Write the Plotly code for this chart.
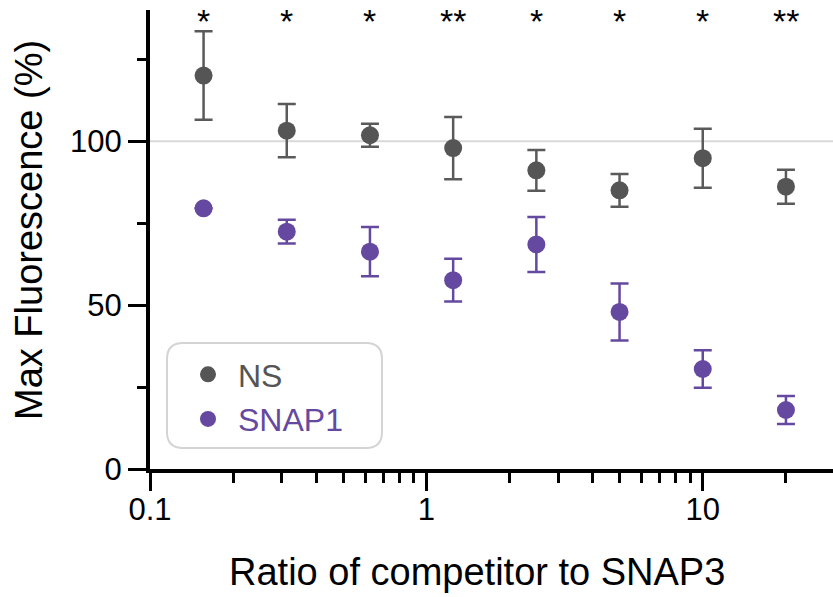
import plotly.graph_objects as go
import math

# ---- data ----
ratios = [0.15625, 0.3125, 0.625, 1.25, 2.5, 5, 10, 20]
ns_mean = [120.0, 103.2, 101.8, 97.9, 91.1, 85.0, 94.8, 86.1]
ns_err = [13.5, 8.1, 3.5, 9.5, 6.2, 5.0, 9.0, 5.2]
snap1_mean = [79.5, 72.4, 66.3, 57.6, 68.5, 47.9, 30.5, 18.0]
snap1_err = [0, 3.6, 7.5, 6.5, 8.4, 8.7, 5.7, 4.3]
signif = ["*", "*", "*", "**", "*", "*", "*", "**"]

x_tick_vals = [0.1, 1, 10]
x_tick_text = ["0.1", "1", "10"]
x_minor_vals = [0.2, 0.3, 0.4, 0.5, 0.6, 0.7, 0.8, 0.9,
                2, 3, 4, 5, 6, 7, 8, 9, 20]
y_tick_vals = [0, 50, 100]
y_minor_vals = [25, 75, 125]

GRAY = "#555555"
PURPLE = "#6549a0"
FONT = "Liberation Sans, Arial, sans-serif"

W, H = 833, 597
ML, MR, MT, MB = 150, 0, 10, 128
PW, PH = W - ML - MR, H - MT - MB

fig = go.Figure()
fig.add_trace(go.Scatter(
    x=ratios, y=ns_mean, mode="markers",
    name=f"<span style='color:{GRAY}'>NS</span>",
    marker=dict(color=GRAY, size=18, line=dict(width=0)),
    error_y=dict(type="data", array=ns_err, color="#5a5a5a", thickness=2.5, width=9),
))
fig.add_trace(go.Scatter(
    x=ratios, y=snap1_mean, mode="markers",
    name=f"<span style='color:{PURPLE}'>SNAP1</span>",
    marker=dict(color=PURPLE, size=18, line=dict(width=0)),
    error_y=dict(type="data", array=snap1_err, color=PURPLE, thickness=2.5, width=9),
))

# significance asterisks
for xv, s in zip(ratios, signif):
    fig.add_annotation(x=math.log10(xv), y=136.6, xref="x", yref="y", text=s,
                       showarrow=False, font=dict(size=34, color="black", family=FONT),
                       yanchor="middle")

# reference line at 100
fig.add_shape(type="line", xref="paper", yref="y", x0=0, x1=1, y0=100, y1=100,
              line=dict(color="#d9d9d9", width=2), layer="below")

# rounded legend frame (pixel -> paper)
def px2paper(px, py):
    return (px - ML) / PW, (H - MB - py) / PH

x0p, y0p, x1p, y1p, r = 167, 343, 382, 448, 16
rx, ry = r / PW, r / PH
a0, b0 = px2paper(x0p, y1p)  # bottom-left
a1, b1 = px2paper(x1p, y0p)  # top-right
path = (f"M {a0+rx},{b0} L {a1-rx},{b0} Q {a1},{b0} {a1},{b0+ry} "
        f"L {a1},{b1-ry} Q {a1},{b1} {a1-rx},{b1} L {a0+rx},{b1} "
        f"Q {a0},{b1} {a0},{b1-ry} L {a0},{b0+ry} Q {a0},{b0} {a0+rx},{b0} Z")
fig.add_shape(type="path", xref="paper", yref="paper", path=path,
              line=dict(color="#d4d4d4", width=2), fillcolor="rgba(0,0,0,0)")

# axis titles as annotations
fig.add_annotation(text="Ratio of competitor to SNAP3", xref="paper", yref="paper",
                   x=(477 - ML) / PW, y=(H - MB - 572) / PH, showarrow=False,
                   font=dict(size=38, color="black", family=FONT),
                   xanchor="center", yanchor="middle")
fig.add_annotation(text="Max Fluorescence (%)", xref="paper", yref="paper",
                   x=(29 - ML) / PW, y=(H - MB - 230) / PH, showarrow=False,
                   textangle=-90, font=dict(size=38, color="black", family=FONT),
                   xanchor="center", yanchor="middle")

lx, ly = px2paper(178, 347)
fig.update_layout(
    width=W, height=H,
    margin=dict(l=ML, r=MR, t=MT, b=MB),
    paper_bgcolor="white", plot_bgcolor="white",
    font=dict(family=FONT, color="black"),
    showlegend=True,
    legend=dict(x=lx, y=ly, xanchor="left", yanchor="top",
                bgcolor="rgba(0,0,0,0)", borderwidth=0, itemwidth=50,
                tracegroupgap=0,
                font=dict(size=32, family=FONT), itemsizing="trace"),
    xaxis=dict(type="log", range=[-1, math.log10(29.6)],
               showline=True, linecolor="black", linewidth=4,
               ticks="outside", tickvals=x_tick_vals, ticktext=x_tick_text,
               ticklen=18, tickwidth=3, tickcolor="black",
               tickfont=dict(size=31, color="black"),
               ticklabelstandoff=-8,
               showgrid=False, zeroline=False,
               minor=dict(tickvals=x_minor_vals, ticks="outside", ticklen=10,
                          tickwidth=3, tickcolor="black", showgrid=False)),
    yaxis=dict(range=[0, 140],
               showline=True, linecolor="black", linewidth=4,
               ticks="outside", tickvals=y_tick_vals,
               ticklen=18, tickwidth=3, tickcolor="black",
               tickfont=dict(size=31, color="black"),
               showgrid=False, zeroline=False,
               minor=dict(tickvals=y_minor_vals, ticks="outside", ticklen=9,
                          tickwidth=3, tickcolor="black", showgrid=False)),
)

fig.write_html("out.html", config={"displayModeBar": False},
               post_script="document.body.style.margin='0px';document.body.style.overflow='hidden';")
